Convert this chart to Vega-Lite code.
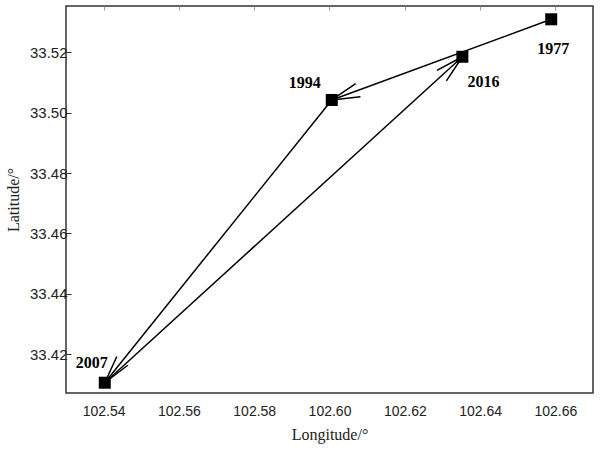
{
  "$schema": "https://vega.github.io/schema/vega-lite/v6.json",
  "autosize": {"type": "none"},
  "width": 527,
  "height": 387,
  "padding": {"left": 66, "top": 6, "right": 7, "bottom": 58},
  "background": "white",
  "config": {
    "view": {"stroke": "#333333", "strokeWidth": 1.5},
    "axis": {
      "grid": false,
      "domain": false,
      "labelFont": "Liberation Sans",
      "labelFontSize": 14,
      "labelColor": "#222222",
      "titleFont": "Liberation Serif",
      "titleFontSize": 16,
      "titleFontWeight": "normal",
      "titleColor": "#222222",
      "tickColor": "#333333"
    }
  },
  "datasets": {
    "pts": [
      {"year": "1977", "lon": 102.6589, "lat": 33.5309},
      {"year": "2016", "lon": 102.6353, "lat": 33.5185},
      {"year": "1994", "lon": 102.6006, "lat": 33.5042},
      {"year": "2007", "lon": 102.5403, "lat": 33.4106}
    ],
    "segs": [
      {"from": "1977", "to": "1994", "lon": 102.6589, "lat": 33.5309, "lon2": 102.6006, "lat2": 33.5042},
      {"from": "1994", "to": "2007", "lon": 102.6006, "lat": 33.5042, "lon2": 102.5403, "lat2": 33.4106},
      {"from": "2007", "to": "2016", "lon": 102.5403, "lat": 33.4106, "lon2": 102.6353, "lat2": 33.5185}
    ]
  },
  "layer": [
    {
      "data": {"name": "segs"},
      "mark": {"type": "rule", "color": "black", "strokeWidth": 1.5},
      "encoding": {
        "x": {"field": "lon", "type": "quantitative",
              "scale": {"domain": [102.53, 102.67], "nice": false, "zero": false},
              "axis": {"orient": "bottom", "title": "Longitude/°", "values": [102.54, 102.56, 102.58, 102.6, 102.62, 102.64, 102.66], "format": ".2f", "ticks": false, "labelPadding": 11, "titlePadding": 8}},
        "y": {"field": "lat", "type": "quantitative",
              "scale": {"domain": [33.4072, 33.5353], "nice": false, "zero": false},
              "axis": {"orient": "left", "title": "Latitude/°", "values": [33.42, 33.44, 33.46, 33.48, 33.5, 33.52], "format": ".2f", "tickSize": -5, "labelPadding": 4, "labelFontSize": 15, "titlePadding": 8}},
        "x2": {"field": "lon2"},
        "y2": {"field": "lat2"}
      }
    },
    {
      "data": {"name": "segs"},
      "transform": [
        {"calculate": "atan2(-(datum.lat2 - datum.lat) * 3021, (datum.lon2 - datum.lon) * 3764) * 180 / PI", "as": "ang"}
      ],
      "mark": {"type": "point", "shape": "M-1,-0.25L0,0L-1,0.25", "filled": false, "stroke": "black", "opacity": 1, "strokeWidth": 1.5, "size": 3136},
      "encoding": {
        "x": {"field": "lon2", "type": "quantitative", "axis": null},
        "y": {"field": "lat2", "type": "quantitative", "axis": null},
        "angle": {"field": "ang", "type": "quantitative", "scale": null}
      }
    },
    {
      "data": {"name": "pts"},
      "mark": {"type": "point", "shape": "square", "filled": true, "color": "black", "opacity": 1, "size": 144},
      "encoding": {
        "x": {"field": "lon", "type": "quantitative",
              "axis": {"orient": "top", "title": null, "labels": false, "values": [102.54, 102.56, 102.58, 102.6, 102.62, 102.64, 102.66], "tickSize": -4, "tickColor": "#999999"}},
        "y": {"field": "lat", "type": "quantitative", "axis": null}
      }
    },
    {
      "data": {"name": "pts"},
      "transform": [{"filter": "datum.year == '1977'"}],
      "mark": {"type": "text", "font": "Liberation Serif", "fontWeight": "bold", "fontSize": 16, "color": "black", "dx": 2, "dy": 30, "baseline": "middle", "align": "center"},
      "encoding": {"x": {"field": "lon", "type": "quantitative", "axis": null}, "y": {"field": "lat", "type": "quantitative", "axis": null}, "text": {"field": "year"}}
    },
    {
      "data": {"name": "pts"},
      "transform": [{"filter": "datum.year == '2016'"}],
      "mark": {"type": "text", "font": "Liberation Serif", "fontWeight": "bold", "fontSize": 16, "color": "black", "dx": 21, "dy": 25, "baseline": "middle", "align": "center"},
      "encoding": {"x": {"field": "lon", "type": "quantitative", "axis": null}, "y": {"field": "lat", "type": "quantitative", "axis": null}, "text": {"field": "year"}}
    },
    {
      "data": {"name": "pts"},
      "transform": [{"filter": "datum.year == '1994'"}],
      "mark": {"type": "text", "font": "Liberation Serif", "fontWeight": "bold", "fontSize": 16, "color": "black", "dx": -27, "dy": -17, "baseline": "middle", "align": "center"},
      "encoding": {"x": {"field": "lon", "type": "quantitative", "axis": null}, "y": {"field": "lat", "type": "quantitative", "axis": null}, "text": {"field": "year"}}
    },
    {
      "data": {"name": "pts"},
      "transform": [{"filter": "datum.year == '2007'"}],
      "mark": {"type": "text", "font": "Liberation Serif", "fontWeight": "bold", "fontSize": 16, "color": "black", "dx": -13, "dy": -20, "baseline": "middle", "align": "center"},
      "encoding": {"x": {"field": "lon", "type": "quantitative", "axis": null}, "y": {"field": "lat", "type": "quantitative", "axis": null}, "text": {"field": "year"}}
    }
  ],
  "resolve": {"axis": {"x": "independent", "y": "independent"}}
}
